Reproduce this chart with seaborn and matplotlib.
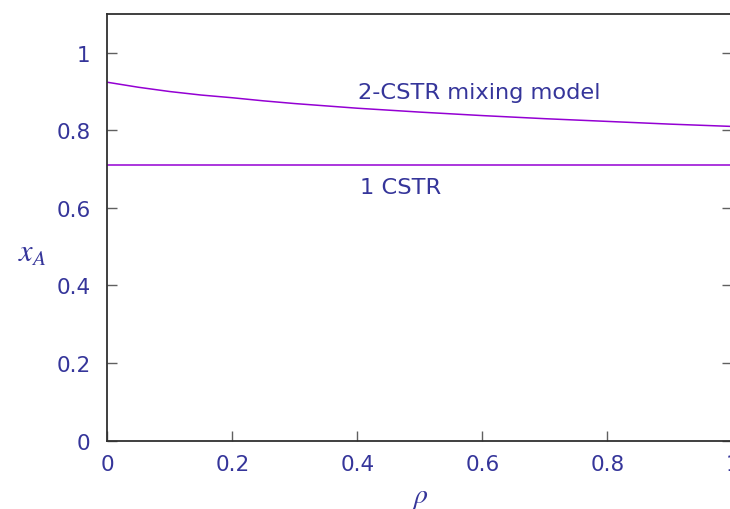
import matplotlib
matplotlib.use("Agg")
import matplotlib.pyplot as plt
import seaborn as sns
import pandas as pd

# Conversion x_A versus the exchange fraction rho
rho = [0.0, 0.05, 0.1, 0.15, 0.2, 0.25, 0.3, 0.4, 0.5, 0.6, 0.7, 0.8, 0.9, 1.0]
xa_two_cstr = [0.924, 0.911, 0.900, 0.891, 0.884, 0.876, 0.869, 0.857, 0.847, 0.838, 0.830, 0.823, 0.816, 0.810]
xa_one_cstr = [0.711] * len(rho)

x_ticks = [0, 0.2, 0.4, 0.6, 0.8, 1.0]
x_tick_labels = ["0", "0.2", "0.4", "0.6", "0.8", "1"]
y_ticks = [0, 0.2, 0.4, 0.6, 0.8, 1.0]
y_tick_labels = ["0", "0.2", "0.4", "0.6", "0.8", "1"]

label_two = "2-CSTR mixing model"
label_one = "1 CSTR"

text_color = "#35359a"
line_color = "#9400d3"
frame_color = "#303030"

sns.set_style("ticks")
plt.rcParams["font.family"] = ["DejaVu Sans"]
plt.rcParams["mathtext.fontset"] = "stix"

df = pd.DataFrame({"rho": rho, "two": xa_two_cstr, "one": xa_one_cstr})

fig = plt.figure(figsize=(7.3, 5.1), dpi=100)
ax = fig.add_axes([107.3 / 730, 1 - 441.5 / 510, 625 / 730, (441.5 - 15) / 510])

sns.lineplot(data=df, x="rho", y="two", ax=ax, color=line_color, lw=1.1)
sns.lineplot(data=df, x="rho", y="one", ax=ax, color=line_color, lw=1.1)

ax.set_xlim(0, 1.0)
ax.set_ylim(0, 1.1)
ax.set_xticks(x_ticks)
ax.set_xticklabels(x_tick_labels)
ax.set_yticks(y_ticks)
ax.set_yticklabels(y_tick_labels)

ax.tick_params(axis="both", direction="in", length=7, width=1, color="#606060",
               labelsize=15.5, labelcolor=text_color)
ax.tick_params(axis="x", pad=10, top=False)
ax.tick_params(axis="y", pad=12, right=True)

for side in ["left", "bottom", "top", "right"]:
    ax.spines[side].set_color(frame_color)
    ax.spines[side].set_linewidth(1.3)

ax.set_xlabel("")
ax.set_ylabel("")
ax.text(0.50, -0.13, r"$\rho$", fontsize=20, color=text_color,
        ha="center", va="center", transform=ax.transAxes)
ax.text(-0.12, 0.44, r"$x_A$", fontsize=22, color=text_color,
        ha="center", va="center", transform=ax.transAxes)

ax.text(0.401, 0.898, label_two, fontsize=16.2, color=text_color, ha="left", va="center")
ax.text(0.404, 0.653, label_one, fontsize=16.2, color=text_color, ha="left", va="center")

fig.savefig("out.png", dpi=100)
